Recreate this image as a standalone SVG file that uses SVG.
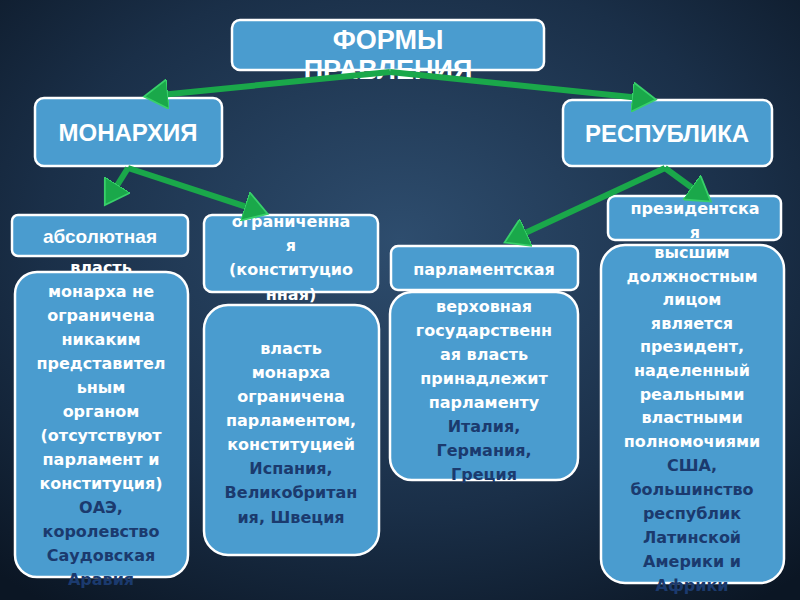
<svg xmlns="http://www.w3.org/2000/svg" width="800" height="600" viewBox="0 0 800 600">
<defs>
<radialGradient id="bg" cx="0.5" cy="0.4" r="0.75">
<stop offset="0" stop-color="#2e4d6e"/><stop offset="0.6" stop-color="#1a2f48"/><stop offset="1" stop-color="#0b1624"/>
</radialGradient>
<marker id="ah" markerWidth="5" markerHeight="5" refX="3" refY="2.5" orient="auto" markerUnits="strokeWidth">
<path d="M0,0 L4,2.5 L0,5 Z" fill="#1aa84a" stroke="#38d06a" stroke-width="0.3"/>
</marker>
<style>
.b{fill:#4a9ccf;stroke:#fff;stroke-width:2.5}
.t{font-family:"DejaVu Sans",sans-serif;font-weight:bold;fill:#fff;text-anchor:middle}
.h{font-family:"Liberation Sans",sans-serif;font-weight:bold;fill:#fff;text-anchor:middle}
.d{fill:#1b3a6e}
.c{stroke:#1aa84a;stroke-width:6;fill:none;marker-end:url(#ah)}
</style>
</defs>
<rect width="800" height="600" fill="url(#bg)"/>
<g id="n-top"><rect class="b" x="232" y="20" width="312" height="50" rx="8"/>
<text class="h" font-size="27" x="388" y="49">ФОРМЫ</text><text class="h" font-size="27" x="388" y="79">ПРАВЛЕНИЯ</text></g>
<g id="n-mon"><rect class="b" x="35" y="98" width="187" height="68" rx="9"/><text class="h" font-size="24" x="128" y="141">МОНАРХИЯ</text></g>
<g id="n-rep"><rect class="b" x="563" y="100" width="209" height="66" rx="9"/><text class="h" font-size="24" x="667" y="142">РЕСПУБЛИКА</text></g>
<g id="n-abs"><rect class="b" x="12" y="215" width="176" height="41" rx="6"/><text class="h" font-size="19" x="100" y="243">абсолютная</text></g>
<g id="n-lim"><rect class="b" x="204" y="215" width="174" height="77" rx="8"/>
<text class="t" font-size="16"><tspan x="291" y="227">ограниченна</tspan><tspan x="291" y="251">я</tspan><tspan x="291" y="275">(конституцио</tspan><tspan x="291" y="300">нная)</tspan></text></g>
<g id="n-par"><rect class="b" x="391" y="246" width="187" height="44" rx="7"/><text class="t" font-size="16" x="484" y="275">парламентская</text></g>
<g id="n-pre"><rect class="b" x="608" y="196" width="173" height="44" rx="7"/>
<text class="t" font-size="16"><tspan x="695" y="214">президентска</tspan><tspan x="695" y="238">я</tspan></text></g>
<g id="d-abs"><rect class="b" x="15" y="272" width="173" height="305" rx="22"/>
<text class="t" font-size="16"><tspan x="101" y="273">власть</tspan><tspan x="101" y="297">монарха не</tspan><tspan x="101" y="321">ограничена</tspan><tspan x="101" y="345">никаким</tspan><tspan x="101" y="369">представител</tspan><tspan x="101" y="393">ьным</tspan><tspan x="101" y="417">органом</tspan><tspan x="101" y="441">(отсутствуют</tspan><tspan x="101" y="465">парламент и</tspan><tspan x="101" y="489">конституция)</tspan><tspan class="d" x="101" y="513">ОАЭ,</tspan><tspan class="d" x="101" y="537">королевство</tspan><tspan class="d" x="101" y="561">Саудовская</tspan><tspan class="d" x="101" y="585">Аравия</tspan></text></g>
<g id="d-lim"><rect class="b" x="204" y="305" width="175" height="250" rx="24"/>
<text class="t" font-size="16"><tspan x="291" y="354">власть</tspan><tspan x="291" y="378">монарха</tspan><tspan x="291" y="402">ограничена</tspan><tspan x="291" y="426">парламентом,</tspan><tspan x="291" y="450">конституцией</tspan><tspan class="d" x="291" y="474">Испания,</tspan><tspan class="d" x="291" y="498">Великобритан</tspan><tspan class="d" x="291" y="523">ия, Швеция</tspan></text></g>
<g id="d-par"><rect class="b" x="390" y="292" width="188" height="188" rx="22"/>
<text class="t" font-size="16"><tspan x="484" y="312">верховная</tspan><tspan x="484" y="336">государственн</tspan><tspan x="484" y="360">ая власть</tspan><tspan x="484" y="384">принадлежит</tspan><tspan x="484" y="408">парламенту</tspan><tspan class="d" x="484" y="432">Италия,</tspan><tspan class="d" x="484" y="456">Германия,</tspan><tspan class="d" x="484" y="480">Греция</tspan></text></g>
<g id="d-pre"><rect class="b" x="601" y="245" width="183" height="338" rx="24"/>
<text class="t" font-size="16"><tspan x="692" y="258">высшим</tspan><tspan x="692" y="282">должностным</tspan><tspan x="692" y="305">лицом</tspan><tspan x="692" y="329">является</tspan><tspan x="692" y="352">президент,</tspan><tspan x="692" y="376">наделенный</tspan><tspan x="692" y="400">реальными</tspan><tspan x="692" y="423">властными</tspan><tspan x="692" y="447">полномочиями</tspan><tspan class="d" x="692" y="471">США,</tspan><tspan class="d" x="692" y="495">большинство</tspan><tspan class="d" x="692" y="519">республик</tspan><tspan class="d" x="692" y="543">Латинской</tspan><tspan class="d" x="692" y="567">Америки и</tspan><tspan class="d" x="692" y="591">Африки</tspan></text></g>
<g id="connectors">
<line class="c" x1="390" y1="72" x2="150" y2="96"/>
<line class="c" x1="390" y1="72" x2="650" y2="99"/>
<line class="c" x1="128" y1="168" x2="108" y2="200"/>
<line class="c" x1="128" y1="168" x2="262" y2="212"/>
<line class="c" x1="665" y1="168" x2="510" y2="240"/>
<line class="c" x1="665" y1="168" x2="706" y2="198"/>
</g>
</svg>
